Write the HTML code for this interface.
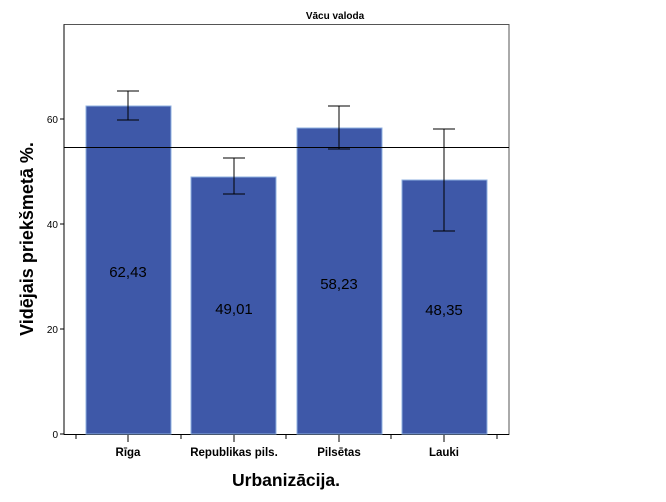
<!DOCTYPE html><html><head><style>body{margin:0;background:#fff}svg{display:block}text{font-family:"Liberation Sans",sans-serif}</style></head><body>
<svg width="666" height="502" xmlns="http://www.w3.org/2000/svg">
<text x="335" y="19" font-size="10" font-weight="bold" text-anchor="middle">Vācu valoda</text>
<rect x="64" y="24.5" width="445" height="410" fill="none" stroke="#555" stroke-width="1"/>
<line x1="64" y1="24.5" x2="64" y2="434.5" stroke="#000"/>
<line x1="64" y1="434.5" x2="509" y2="434.5" stroke="#000"/>
<g fill="#3e58a8" stroke="#8fb0e0" stroke-width="1">
<rect x="86" y="106" width="85" height="328"/>
<rect x="191" y="177" width="85" height="257"/>
<rect x="297" y="128" width="85" height="306"/>
<rect x="402" y="180" width="85" height="254"/>
</g>
<line x1="64" y1="147.5" x2="509" y2="147.5" stroke="#000"/>
<g stroke="#000" stroke-width="1" fill="none">
<path d="M128 91V120M117 91H139M117 120H139"/>
<path d="M234 158V194M223 158H245M223 194H245"/>
<path d="M339 106V149M328 106H350M328 149H350"/>
<path d="M444 129V231M433 129H455M433 231H455"/>
<path d="M60 119H64M60 224H64M60 329H64M60 434H64"/>
<path d="M76 435V439M181 435V439M286 435V439M391 435V439M497 435V439M128 435V442M234 435V442M339 435V442M444 435V442"/>
</g>
<g font-size="10" text-anchor="end"><text x="58" y="123">60</text><text x="58" y="228">40</text><text x="58" y="333">20</text><text x="58" y="438">0</text></g>
<g font-size="15" text-anchor="middle">
<text x="128" y="277">62,43</text><text x="234" y="314">49,01</text><text x="339" y="289">58,23</text><text x="444" y="315">48,35</text>
</g>
<g font-size="11.5" font-weight="bold" text-anchor="middle">
<text x="128" y="456">Rīga</text><text x="234" y="456">Republikas pils.</text><text x="339" y="456">Pilsētas</text><text x="444" y="456">Lauki</text>
</g>
<text x="286" y="486" font-size="17.5" font-weight="bold" text-anchor="middle">Urbanizācija.</text>
<text transform="translate(33,239) rotate(-90)" font-size="18" font-weight="bold" text-anchor="middle">Vidējais priekšmetā %.</text>
</svg></body></html>
